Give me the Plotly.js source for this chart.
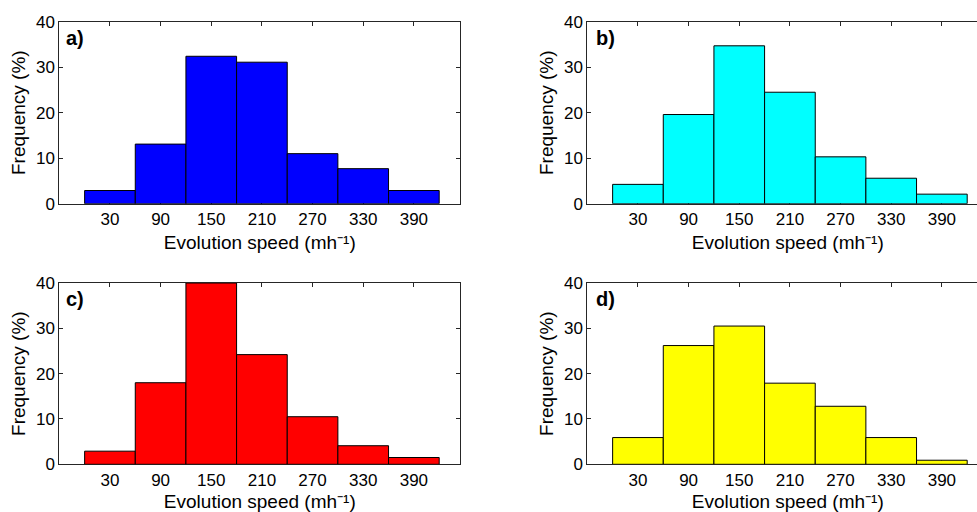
<!DOCTYPE html>
<html>
<head>
<meta charset="utf-8">
<script src="https://cdn.plot.ly/plotly-3.0.1.min.js"></script>
<style>
html, body { margin: 0; padding: 0; overflow: hidden; background: #fff; }
#chart { width: 990px; height: 512px; }
</style>
</head>
<body>
<div id="chart"></div>
<script>
// Bin centers (mh^-1) and tick labels
const binCenters = [30, 90, 150, 210, 270, 330, 390];
const tickLabels = ["30", "90", "150", "210", "270", "330", "390"];
const binWidth = 60;

// Frequencies (%) per panel
const freqA = [2.9, 13.1, 32.4, 31.1, 11.0, 7.7, 2.9];
const freqB = [4.25, 19.6, 34.7, 24.5, 10.3, 5.6, 2.1];
const freqC = [2.9, 18.0, 40.0, 24.2, 10.5, 4.1, 1.5];
const freqD = [5.9, 26.2, 30.5, 17.9, 12.8, 5.9, 0.9];

const panelLabels = ["a)", "b)", "c)", "d)"];
const panelColors = ["#0000ff", "#00ffff", "#ff0000", "#ffff00"];
const panelData = [freqA, freqB, freqC, freqD];

const W = 990, H = 512;
const FONT = "Liberation Sans, Arial, sans-serif";

// pixel geometry of plot areas
const xPix = [[59.3, 460.3], [587.3, 988.3]];
const yPix = [[21.7, 203.7], [283.0, 464.3]];

const traces = [];
const layout = {
  width: W, height: H,
  margin: {l: 0, r: 0, t: 0, b: 0},
  paper_bgcolor: "#fff", plot_bgcolor: "#fff",
  showlegend: false,
  bargap: 0,
  font: {family: FONT, size: 16, color: "#000"},
  annotations: []
};

for (let i = 0; i < 4; i++) {
  const col = i % 2, row = Math.floor(i / 2);
  const n = i + 1;
  const xa = "x" + (n === 1 ? "" : n), ya = "y" + (n === 1 ? "" : n);
  const xk = "xaxis" + (n === 1 ? "" : n), yk = "yaxis" + (n === 1 ? "" : n);
  traces.push({
    type: "bar", x: binCenters, y: panelData[i], width: binWidth,
    xaxis: xa, yaxis: ya,
    marker: {color: panelColors[i], line: {color: "#000", width: 1}},
    hoverinfo: "x+y"
  });
  const common = {
    showline: true, linecolor: "#262626", linewidth: 1, mirror: "ticks",
    ticks: "inside", ticklen: 4, tickwidth: 1, tickcolor: "#262626",
    showgrid: false, zeroline: false, layer: "below traces",
    tickfont: {family: FONT, size: 17, color: "#000"}
  };
  layout[xk] = Object.assign({}, common, {
    domain: [xPix[col][0] / W, xPix[col][1] / W],
    anchor: ya, range: [-30, 445],
    tickmode: "array", tickvals: binCenters, ticktext: tickLabels,
    title: {text: "Evolution speed (mh\u207B\u00B9)", font: {family: FONT, size: 19, color: "#000"}, standoff: 7}
  });
  layout[yk] = Object.assign({}, common, {
    domain: [(H - yPix[row][1]) / H, (H - yPix[row][0]) / H],
    anchor: xa, range: [0, 40],
    tickmode: "array", tickvals: [0, 10, 20, 30, 40], ticktext: ["0", "10", "20", "30", "40"],
    title: {text: "Frequency (%)", font: {family: FONT, size: 19, color: "#000"}, standoff: 5}
  });
  layout.annotations.push({
    xref: xa + " domain", yref: ya + " domain",
    x: col === 0 ? 0.012 : 0.017, y: 0.91, xanchor: "left", yanchor: "middle",
    text: panelLabels[i], showarrow: false,
    font: {family: FONT, size: 20, color: "#000", weight: "bold"}
  });
}

Plotly.newPlot("chart", traces, layout, {displayModeBar: false, staticPlot: true});
</script>
</body>
</html>
